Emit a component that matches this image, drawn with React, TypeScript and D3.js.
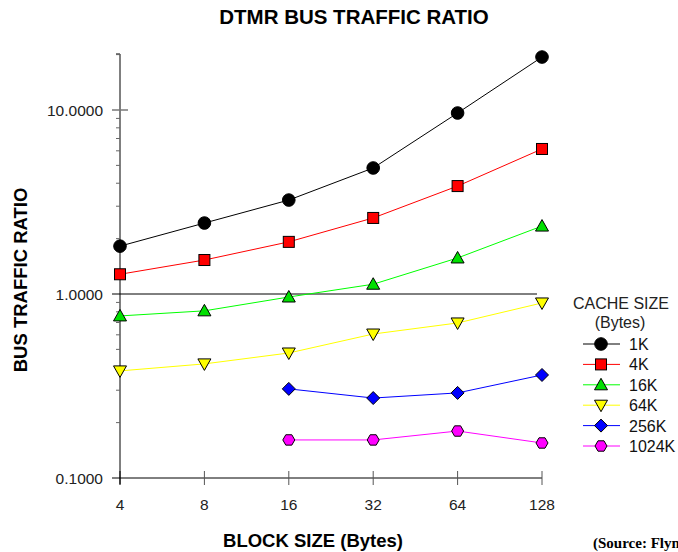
import React from "react";
import * as d3 from "d3";

const blockSizes = [4, 8, 16, 32, 64, 128];
const xTickLabels = ["4", "8", "16", "32", "64", "128"];
const yTickValues = [0.1, 1, 10];
const yTickLabels = ["0.1000", "1.0000", "10.0000"];

const seriesNames = ["1K", "4K", "16K", "64K", "256K", "1024K"];
const s1K = [1.82, 2.43, 3.24, 4.84, 9.63, 19.4];
const s4K = [1.28, 1.53, 1.92, 2.59, 3.86, 6.14];
const s16K = [0.76, 0.81, 0.963, 1.13, 1.57, 2.34];
const s64K = [0.382, 0.417, 0.478, 0.606, 0.696, 0.894];
const s256K = [null, null, 0.305, 0.272, 0.29, 0.363];
const s1024K = [null, null, 0.161, 0.161, 0.18, 0.155];
const seriesValues = [s1K, s4K, s16K, s64K, s256K, s1024K];
const lineColors = ["#000000", "#ff0000", "#00ff00", "#ffff00", "#0000ff", "#ff00ff"];
const fillColors = ["#000000", "#ff0000", "#00e000", "#ffff00", "#0000ff", "#ff00ff"];
const markerTypes = ["circle", "square", "triangle", "triangleDown", "diamond", "hexagon"];

const FONT = "'Liberation Sans', Arial, sans-serif";

function Marker({ type, x, y, fill }: { type: string; x: number; y: number; fill: string }) {
  const stroke = "#000";
  if (type === "circle") return <circle cx={x} cy={y} r={6.3} fill={fill} stroke={stroke} strokeWidth={1} />;
  if (type === "square") return <rect x={x - 5.5} y={y - 5.5} width={11} height={11} fill={fill} stroke={stroke} strokeWidth={1} />;
  if (type === "triangle") {
    const p = `${x},${y - 6.5} ${x + 6.5},${y + 5} ${x - 6.5},${y + 5}`;
    return <polygon points={p} fill={fill} stroke={stroke} strokeWidth={1} />;
  }
  if (type === "triangleDown") {
    const p = `${x - 6.5},${y - 5} ${x + 6.5},${y - 5} ${x},${y + 6.5}`;
    return <polygon points={p} fill={fill} stroke={stroke} strokeWidth={1} />;
  }
  if (type === "diamond") {
    const p = `${x},${y - 6.5} ${x + 6.5},${y} ${x},${y + 6.5} ${x - 6.5},${y}`;
    return <polygon points={p} fill={fill} stroke={stroke} strokeWidth={1} />;
  }
  const pts = d3.range(6).map((i) => {
    const a = (Math.PI / 3) * i;
    return `${x + 6 * Math.cos(a)},${y + 6 * Math.sin(a)}`;
  });
  return <polygon points={pts.join(" ")} fill={fill} stroke={stroke} strokeWidth={1} />;
}

export default function App() {
  const W = 678, H = 552;
  const x = d3.scaleLog().base(2).domain([4, 128]).range([120, 542]);
  const y = d3.scaleLog().domain([0.1, 10]).range([478, 110]);
  const yTop = 54;
  const minor: number[] = [];
  [0.1, 1, 10].forEach((d) => {
    for (let k = 2; k <= 9; k++) {
      const v = d * k;
      if (y(v) >= yTop - 0.5) minor.push(v);
    }
  });

  return (
    <div style={{ position: "absolute", left: 0, top: 0, width: W, height: H, overflow: "hidden", background: "#fff" }}>
      <svg width={W} height={H} style={{ display: "block" }}>
        <rect width={W} height={H} fill="#fff" />
        <text x={354} y={24} textAnchor="middle" fontFamily={FONT} fontWeight="bold" fontSize={20.5}>
          DTMR BUS TRAFFIC RATIO
        </text>

        {/* y axis */}
        <line x1={120} x2={120} y1={yTop} y2={484} stroke="#000" strokeWidth={1} />
        <line x1={116} x2={120} y1={yTop} y2={yTop} stroke="#000" />
        {minor.map((v, i) => (
          <line key={i} x1={116} x2={120} y1={y(v)} y2={y(v)} stroke="#666" strokeWidth={1} />
        ))}
        <line x1={112} x2={128} y1={y(10)} y2={y(10)} stroke="#777" strokeWidth={1.5} />
        <line x1={112} x2={537} y1={y(1)} y2={y(1)} stroke="#000" strokeWidth={1} />
        {yTickValues.map((v, i) => (
          <text key={i} x={103} y={y(v) + 5.5} textAnchor="end" fontFamily={FONT} fontSize={15.5} fill="#222">
            {yTickLabels[i]}
          </text>
        ))}
        <text transform="translate(27,280) rotate(-90)" textAnchor="middle" fontFamily={FONT} fontWeight="bold" fontSize={18.5}>
          BUS TRAFFIC RATIO
        </text>

        {/* x axis */}
        <line x1={112} x2={542} y1={478} y2={478} stroke="#000" strokeWidth={1} />
        {blockSizes.map((b, i) => (
          <g key={i}>
            <line x1={x(b)} x2={x(b)} y1={471} y2={485} stroke={i === 0 ? "#000" : "#555"} strokeWidth={1} />
            <text x={x(b)} y={510} textAnchor="middle" fontFamily={FONT} fontSize={15.5} fill="#222">
              {xTickLabels[i]}
            </text>
          </g>
        ))}
        <text x={313} y={547} textAnchor="middle" fontFamily={FONT} fontWeight="bold" fontSize={18.5}>
          BLOCK SIZE (Bytes)
        </text>
        <text x={593} y={548} fontFamily="'Liberation Serif', 'Times New Roman', serif" fontWeight="bold" fontSize={15}>
          (Source: Flynn)
        </text>

        {/* series */}
        {seriesValues.map((vals, si) => {
          const pts = blockSizes
            .map((b, i) => [b, vals[i]] as [number, number | null])
            .filter((p) => p[1] !== null) as [number, number][];
          const line = d3.line<[number, number]>().x((p) => x(p[0])).y((p) => y(p[1]));
          return (
            <g key={si}>
              <path d={line(pts) || ""} fill="none" stroke={lineColors[si]} strokeWidth={1} />
              {pts.map((p, i) => (
                <Marker key={i} type={markerTypes[si]} x={x(p[0])} y={y(p[1])} fill={fillColors[si]} />
              ))}
            </g>
          );
        })}

        {/* legend */}
        <text x={621} y={309} textAnchor="middle" fontFamily={FONT} fontSize={16} fill="#222">CACHE SIZE</text>
        <text x={620} y={328} textAnchor="middle" fontFamily={FONT} fontSize={16} fill="#222">(Bytes)</text>
        {seriesNames.map((n, i) => {
          const ly = 344 + i * 20.4;
          return (
            <g key={i}>
              <line x1={583} x2={620} y1={ly} y2={ly} stroke={lineColors[i]} strokeWidth={1} />
              <Marker type={markerTypes[i]} x={601} y={ly} fill={fillColors[i]} />
              <text x={629} y={ly + 6} fontFamily={FONT} fontSize={16} fill="#111">{n}</text>
            </g>
          );
        })}
      </svg>
    </div>
  );
}
